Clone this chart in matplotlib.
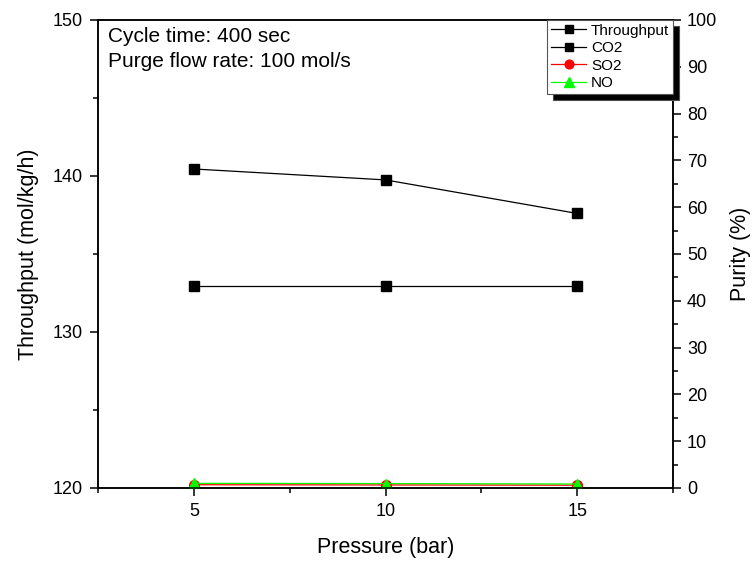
import matplotlib
matplotlib.use("Agg")
import matplotlib.pyplot as plt
from matplotlib.ticker import MultipleLocator

plt.rcParams['font.family'] = ['Liberation Sans', 'DejaVu Sans']

pressure = [5, 10, 15]
throughput = [140.45, 139.75, 137.6]
co2_purity = [43.2, 43.2, 43.2]
so2_purity = [0.7, 0.65, 0.6]
no_purity = [1.0, 0.95, 0.85]

fig = plt.figure(figsize=(7.53, 5.64), dpi=100)
ax = fig.add_axes([98/753, 76/564, 575/753, 468/564])
ax2 = ax.twinx()

l1, = ax.plot(pressure, throughput, color='black', lw=0.9, marker='s', ms=6.8, label='Throughput')
l2, = ax2.plot(pressure, co2_purity, color='black', lw=0.9, marker='s', ms=6.8, label='CO2')
l3, = ax2.plot(pressure, so2_purity, color='#FF0000', lw=0.9, marker='o', ms=7, label='SO2')
l4, = ax2.plot(pressure, no_purity, color='#00FF00', lw=0.9, marker='^', ms=7.5, label='NO')

ax.set_xlim(2.5, 17.5)
ax.set_ylim(120, 150)
ax2.set_ylim(0, 100)

ax.xaxis.set_major_locator(MultipleLocator(5))
ax.xaxis.set_minor_locator(MultipleLocator(2.5))
ax.yaxis.set_major_locator(MultipleLocator(10))
ax.yaxis.set_minor_locator(MultipleLocator(5))
ax2.yaxis.set_major_locator(MultipleLocator(10))
ax2.yaxis.set_minor_locator(MultipleLocator(5))

for a in (ax, ax2):
    for s in a.spines.values():
        s.set_linewidth(1.1)
ax.tick_params(axis='both', which='major', direction='out', length=6, width=1.1, labelsize=13, top=False, pad=5)
ax.tick_params(axis='both', which='minor', direction='out', length=3.5, width=1.1, top=False)
ax2.tick_params(axis='y', which='major', direction='out', length=6, width=1.1, labelsize=13, pad=4)
ax2.tick_params(axis='y', which='minor', direction='out', length=3.5, width=1.1)
ax.set_xticks([5, 10, 15])

ax.set_xlabel('Pressure (bar)', fontsize=15.5, labelpad=12)
ax.set_ylabel('Throughput (mol/kg/h)', fontsize=15.5, labelpad=10)
ax2.set_ylabel('Purity (%)', fontsize=15.5, labelpad=9)

ax.text(0.017, 0.986, 'Cycle time: 400 sec\nPurge flow rate: 100 mol/s', transform=ax.transAxes,
        ha='left', va='top', fontsize=15, linespacing=1.45)

leg = ax2.legend(handles=[l1, l2, l3, l4], loc='upper right', fontsize=11, frameon=True,
                 fancybox=False, borderaxespad=0, handlelength=2.3, handletextpad=0.3,
                 labelspacing=0.22, borderpad=0.25, markerscale=0.9,
                 shadow={'ox': 4.3, 'oy': -4.3, 'facecolor': 'black', 'alpha': 1.0})
leg.get_frame().set_edgecolor('#555555')
leg.get_frame().set_linewidth(0.8)

fig.savefig('out.png', dpi=100)
